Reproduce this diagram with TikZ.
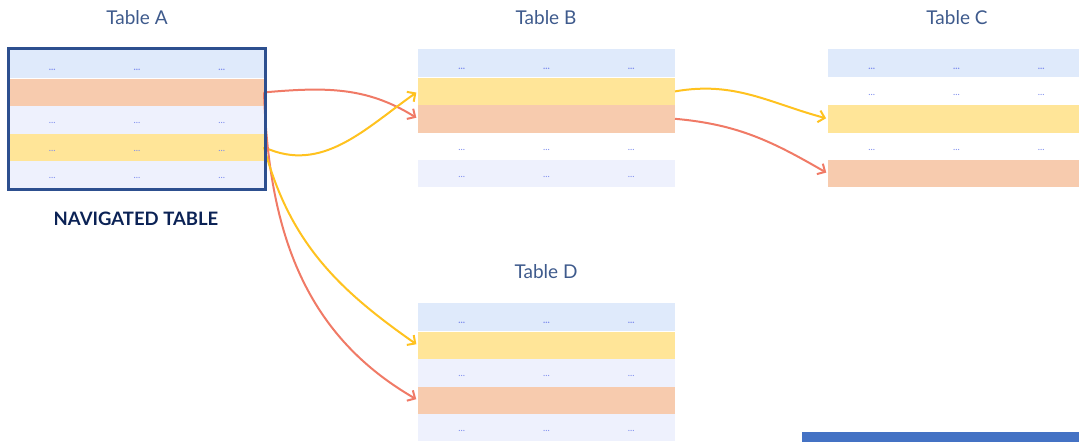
\documentclass[tikz,border=0pt]{standalone}
\usepackage{fontspec}
\setmainfont{Lato}
\usetikzlibrary{arrows.meta, positioning}
\definecolor{hdr}{HTML}{DFEAFB}
\definecolor{peach}{HTML}{F7CBAE}
\definecolor{lav}{HTML}{EEF1FD}
\definecolor{gold}{HTML}{FFE598}
\definecolor{frame}{HTML}{2D4F8F}
\definecolor{ttl}{HTML}{3E5A8C}
\definecolor{navtxt}{HTML}{0B2255}
\definecolor{dotblue}{HTML}{7F8EEE}
\definecolor{redline}{HTML}{F07A66}
\definecolor{goldline}{HTML}{FFC21F}
\definecolor{bar}{HTML}{4472C4}
\newcommand{\tdots}{\makebox[84.7pt]{...}\makebox[84.7pt]{...}\makebox[84.7pt]{...}}

\begin{document}
\begin{tikzpicture}[x=1pt, y=-1pt,
    row/.style={minimum width=257pt, minimum height=27.4pt, inner sep=0pt, outer sep=0pt,
        text height=8pt, text depth=0pt, text=dotblue, font=\fontsize{9.5}{9.5}\selectfont},
    hrow/.style={row, fill=hdr, text height=13pt, font=\fontsize{9.5}{9.5}\selectfont\bfseries},
    title/.style={text=ttl, font=\fontsize{19}{19}\selectfont},
    link/.style={line width=2pt, -{Straight Barb[length=6pt, width=12pt, line width=2pt]}, shorten >=2pt}]

    \useasboundingbox (0,0) rectangle (1079,442);

    % Table A (navigated)
    \node[title] (tA) at (137,18) {Table A};
    \node[hrow, minimum width=254pt] (A0) at (137,64) {\tdots};
    \node[row, minimum width=254pt, fill=peach, below=1pt of A0] (A1) {};
    \node[row, minimum width=254pt, fill=lav, below=0pt of A1] (A2) {\tdots};
    \node[row, minimum width=254pt, fill=gold, below=0pt of A2] (A3) {\tdots};
    \node[row, minimum width=254pt, fill=lav, below=0pt of A3] (A4) {\tdots};
    \node[text=navtxt, font=\fontsize{18.5}{18.5}\selectfont\bfseries] (nav) at (136,219) {NAVIGATED TABLE};

    % Table B
    \node[title] (tB) at (546,18) {Table B};
    \node[hrow] (B0) at (546.5,63) {\tdots};
    \node[row, fill=gold, below=1pt of B0] (B1) {};
    \node[row, fill=peach, below=0pt of B1] (B2) {};
    \node[row, below=0pt of B2] (B3) {\tdots};
    \node[row, fill=lav, below=0pt of B3] (B4) {\tdots};

    % Table C
    \node[title] (tC) at (957,18) {Table C};
    \node[hrow] (C0) at (956.5,63) {\tdots};
    \node[row, below=1pt of C0] (C1) {\tdots};
    \node[row, fill=gold, below=0pt of C1] (C2) {};
    \node[row, below=0pt of C2] (C3) {\tdots};
    \node[row, fill=peach, below=0pt of C3] (C4) {};

    % Table D
    \node[title] (tD) at (546,272) {Table D};
    \node[hrow] (D0) at (546.5,317) {\tdots};
    \node[row, fill=gold, below=1pt of D0] (D1) {};
    \node[row, fill=lav, below=0pt of D1] (D2) {\tdots};
    \node[row, fill=peach, below=0pt of D2] (D3) {};
    \node[row, fill=lav, below=0pt of D3] (D4) {\tdots};

    % links
    \draw[link, redline] (A1.east) to[out=5, in=148] (B2.west);
    \draw[link, goldline] (A3.east) to[out=-25, in=215] (B1.west);
    \draw[link, redline] (A1.east) to[out=-88, in=150] (D3.west);
    \draw[link, goldline] (A3.east) to[out=-75, in=145] (D1.west);
    \draw[link, goldline] (B1.east) to[out=10, in=165] (C2.west);
    \draw[link, redline] (B2.east) to[out=-5, in=150] (C4.west);

    \draw[frame, line width=3pt] ([shift={(-1.5,-1.5)}]A0.north west) rectangle ([shift={(1.5,1.5)}]A4.south east);

    \fill[bar] (802,432) rectangle (1079,442);

\end{tikzpicture}
\end{document}
